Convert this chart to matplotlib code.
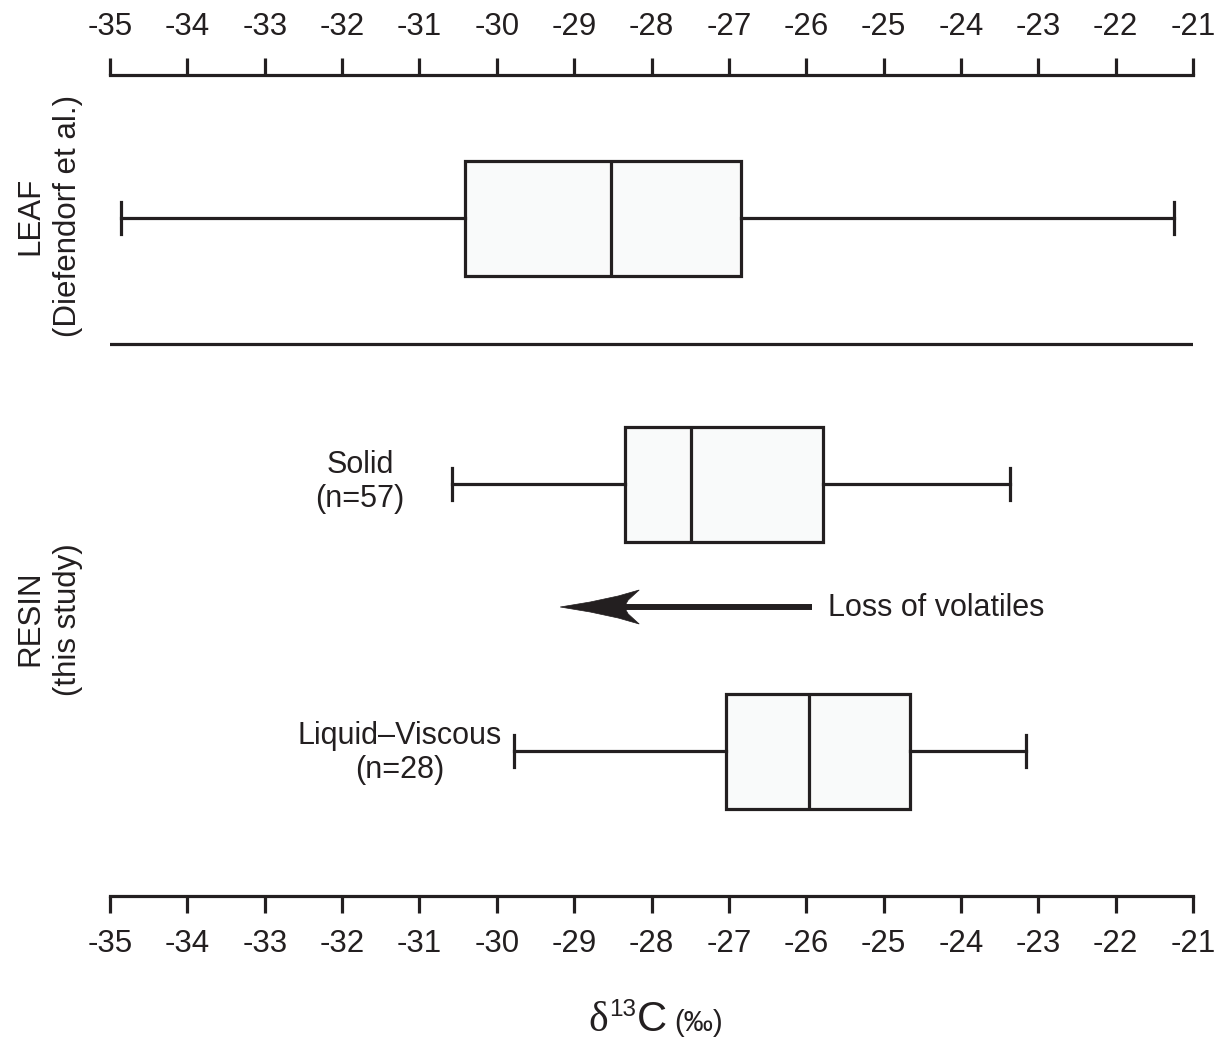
import matplotlib
matplotlib.use("Agg")
import matplotlib.pyplot as plt
from matplotlib.patches import Polygon

plt.rcParams['font.family'] = ['Liberation Sans', 'DejaVu Sans']

# ---- data (delta13C, permil) ----
groups = ["LEAF", "Solid", "Liquid-Viscous"]
whisker_low = [-34.86, -30.58, -29.78]
q1 = [-30.41, -28.34, -27.04]
median = [-28.52, -27.49, -25.96]
q3 = [-26.84, -25.78, -24.66]
whisker_high = [-21.25, -23.37, -23.16]
tick_values = list(range(-35, -20))
arrow_start = -25.93
arrow_end = -29.18

INK = '#231f20'
W, H = 1217, 1042
fig = plt.figure(figsize=(W / 100, H / 100), dpi=100)
top_px, bot_px, left_px, right_px = 75, 896, 110, 1193
ax = fig.add_axes([left_px / W, 1 - bot_px / H, (right_px - left_px) / W, (bot_px - top_px) / H])
ax.set_xlim(-35, -21)
ax.set_ylim(bot_px, top_px)  # vertical layout in pixel-like units

positions = [218, 484, 751]
stats = []
for i in range(3):
    stats.append(dict(whislo=whisker_low[i], q1=q1[i], med=median[i], q3=q3[i],
                      whishi=whisker_high[i], fliers=[], label=groups[i]))
lw = 2.3
ax.bxp(stats, positions=positions, vert=False, widths=115, capwidths=32,
       showfliers=False, patch_artist=True, manage_ticks=False,
       boxprops=dict(facecolor='#f9fafa', edgecolor=INK, linewidth=lw),
       medianprops=dict(color=INK, linewidth=lw),
       whiskerprops=dict(color=INK, linewidth=lw),
       capprops=dict(color=INK, linewidth=lw))

# separator
ax.axhline(344, color=INK, linewidth=lw, xmin=0, xmax=1)

# arrow: shaft + stealth head
y0 = 607
px = 1 / 77.36
ax.plot([arrow_start, arrow_end + 62 * px], [y0, y0], color=INK, linewidth=4.3, solid_capstyle='butt')
head = Polygon([(arrow_end, y0),
                (arrow_end + 30 * px, y0 - 5), (arrow_end + 58 * px, y0 - 11),
                (arrow_end + 79 * px, y0 - 17),
                (arrow_end + 68 * px, y0 - 7), (arrow_end + 64 * px, y0),
                (arrow_end + 68 * px, y0 + 7),
                (arrow_end + 79 * px, y0 + 17),
                (arrow_end + 58 * px, y0 + 11), (arrow_end + 30 * px, y0 + 5)],
               closed=True, facecolor=INK, edgecolor=INK, linewidth=0.5)
ax.add_patch(head)
ax.text(arrow_start + 16 * px, y0 + 1, "Loss of volatiles", fontsize=22, va='center', ha='left', color=INK)

# group labels
ax.text(-31.77, 482, "Solid\n(n=57)", fontsize=22, ha='center', va='center', color=INK, linespacing=1.15)
ax.text(-31.25, 753, "Liquid\u2013Viscous\n(n=28)", fontsize=22, ha='center', va='center', color=INK, linespacing=1.2)

# side labels
fig.text(30 / W, 1 - 216 / H, "LEAF", rotation=90, fontsize=22.5, ha='center', va='center', color=INK)
fig.text(68 / W, 1 - 216 / H, "(Diefendorf et al.)", rotation=90, fontsize=22.5, ha='center', va='center', color=INK)
fig.text(30 / W, 1 - 618 / H, "RESIN", rotation=90, fontsize=22.5, ha='center', va='center', color=INK)
fig.text(68 / W, 1 - 620 / H, "(this study)", rotation=90, fontsize=22.5, ha='center', va='center', color=INK)

# axes styling
for s in ['left', 'right']:
    ax.spines[s].set_visible(False)
for s in ['top', 'bottom']:
    ax.spines[s].set_linewidth(lw)
    ax.spines[s].set_color(INK)
ax.set_yticks([])
ax.set_xticks(tick_values)
ax.set_xticklabels([str(v) for v in tick_values])
ax.tick_params(axis='x', which='both', top=True, bottom=True, labeltop=True, labelbottom=True,
               direction='out', length=12.5, width=lw, color=INK, labelsize=22.5, pad=11, labelcolor=INK)

# x label pieces: δ (serif) + superscript 13 + C + (‰), placed along one baseline
fig.canvas.draw()
renderer = fig.canvas.get_renderer()
base_y = 1 - 1031 / H
x_px = 588
pieces = [("\u03b4", 30, 'Liberation Serif', 0, 1),
          ("13", 17.5, 'Liberation Sans', 15, 1),
          ("C", 30, 'Liberation Sans', 0, 7),
          ("(\u2030)", 21, 'Liberation Sans', 0, 0)]
for txt, size, fam, dy, gap in pieces:
    t = fig.text(x_px / W, base_y + dy / H, txt, fontsize=size, family=fam,
                 ha='left', va='baseline', color=INK)
    bb = t.get_window_extent(renderer=renderer)
    x_px = x_px + bb.width + gap

fig.savefig("out.png", dpi=100, facecolor='white')
